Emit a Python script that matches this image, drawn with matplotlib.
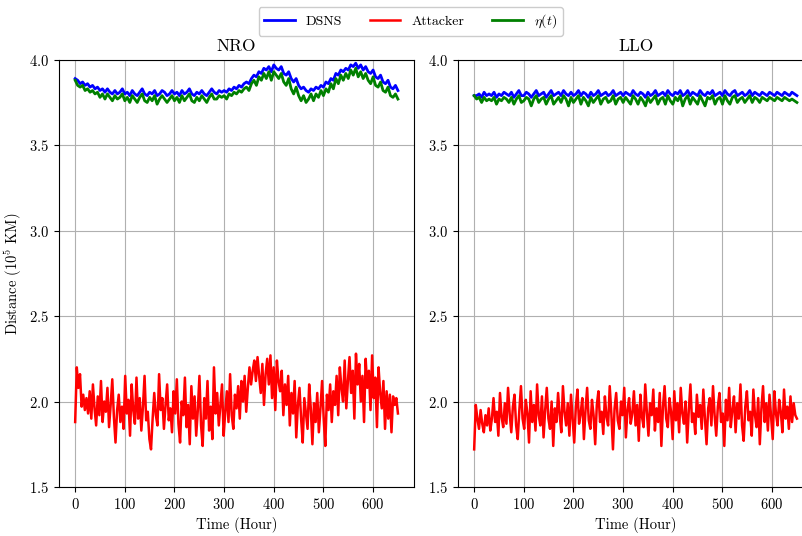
import numpy as np
import matplotlib
matplotlib.use("Agg")
import matplotlib.pyplot as plt

plt.rcParams["font.family"] = ["cmr10", "DejaVu Serif"]
plt.rcParams["mathtext.fontset"] = "cm"
plt.rcParams["axes.formatter.use_mathtext"] = True
plt.rcParams["axes.unicode_minus"] = False

# sample times (hours): estimator every 5 h, attacker every 3.25 h
hours = np.arange(0, 655, 5)
attacker_hours = np.linspace(0, 650, 201)

# NRO orbit, distances in 10^5 km
nro_dsns = [
    3.89, 3.88, 3.86, 3.87, 3.85, 3.86, 3.84, 3.85, 3.83, 3.84,
    3.82, 3.83, 3.81, 3.83, 3.81, 3.80, 3.82, 3.80, 3.81, 3.83,
    3.80, 3.81, 3.79, 3.82, 3.80, 3.79, 3.81, 3.83, 3.80, 3.79,
    3.81, 3.80, 3.82, 3.79, 3.80, 3.82, 3.81, 3.79, 3.80, 3.82,
    3.80, 3.81, 3.79, 3.82, 3.80, 3.81, 3.83, 3.80, 3.79, 3.81,
    3.80, 3.82, 3.80, 3.79, 3.81, 3.83, 3.81, 3.80, 3.82, 3.81,
    3.82, 3.81, 3.83, 3.82, 3.84, 3.83, 3.85, 3.84, 3.86, 3.87,
    3.86, 3.89, 3.91, 3.90, 3.93, 3.92, 3.95, 3.94, 3.96, 3.93,
    3.97, 3.95, 3.94, 3.96, 3.92, 3.91, 3.93, 3.89, 3.87, 3.89,
    3.85, 3.83, 3.84, 3.82, 3.81, 3.83, 3.82, 3.84, 3.83, 3.85,
    3.84, 3.87, 3.86, 3.89, 3.88, 3.92, 3.91, 3.94, 3.93, 3.95,
    3.94, 3.97, 3.96, 3.98, 3.95, 3.97, 3.94, 3.96, 3.93, 3.92,
    3.94, 3.90, 3.89, 3.91, 3.87, 3.86, 3.88, 3.84, 3.83, 3.85, 3.82,
]
nro_attacker = [
    1.88, 2.20, 2.08, 2.16, 1.97, 2.04, 1.95, 2.02, 1.93, 2.06,
    1.90, 2.10, 1.96, 1.86, 2.03, 1.92, 2.12, 1.88, 2.00, 1.94,
    2.08, 1.85, 1.98, 2.13, 1.91, 1.76, 1.95, 2.04, 1.88, 1.97,
    1.84, 2.15, 1.93, 2.01, 1.80, 2.10, 1.95, 1.87, 2.14, 1.90,
    2.02, 1.83, 1.97, 2.15, 1.89, 1.94, 1.78, 1.72, 1.90, 2.05,
    1.92, 1.86, 2.16, 1.95, 2.02, 1.84, 1.98, 2.10, 1.89, 1.96,
    1.82, 2.06, 1.93, 2.13, 1.87, 1.76, 2.00, 1.92, 2.14, 1.85,
    1.98, 1.75, 2.09, 1.90, 2.03, 1.80, 1.95, 2.15, 1.86, 1.74,
    2.02, 1.90, 2.12, 1.83, 1.97, 1.78, 2.20, 1.93, 2.05, 1.86,
    1.98, 2.10, 1.80, 1.94, 2.06, 1.88, 2.16, 1.92, 1.84, 2.04,
    1.96, 2.09, 1.90, 2.12, 2.00, 2.15, 1.94, 2.08, 2.20, 2.10,
    2.18, 2.24, 2.12, 2.26, 2.15, 2.05, 2.22, 1.98, 2.16, 2.25,
    2.10, 2.27, 2.02, 2.20, 1.95, 2.24, 2.12, 2.06, 2.18, 1.92,
    2.10, 1.98, 2.15, 1.86, 2.05, 1.93, 2.12, 1.79, 1.98, 2.08,
    1.90, 1.76, 2.02, 1.93, 1.84, 2.10, 1.96, 1.75, 1.99, 1.88,
    2.05, 1.82, 1.96, 2.12, 1.90, 1.74, 2.04, 1.95, 2.10, 1.88,
    2.06, 1.98, 2.15, 1.92, 2.20, 2.08, 2.00, 2.24, 1.96, 2.12,
    2.26, 2.05, 2.18, 1.90, 2.28, 2.10, 2.22, 2.00, 2.15, 1.88,
    2.25, 2.08, 2.18, 1.95, 2.27, 2.02, 2.14, 1.85, 2.20, 2.05,
    1.96, 2.12, 1.84, 2.06, 1.90, 2.04, 1.82, 2.03, 1.98, 2.02,
    1.93,
]
nro_eta = [
    3.88, 3.85, 3.84, 3.85, 3.82, 3.83, 3.81, 3.82, 3.80, 3.81,
    3.78, 3.80, 3.77, 3.80, 3.78, 3.76, 3.79, 3.77, 3.78, 3.80,
    3.76, 3.78, 3.75, 3.79, 3.77, 3.75, 3.78, 3.80, 3.76, 3.75,
    3.78, 3.76, 3.79, 3.74, 3.77, 3.79, 3.77, 3.75, 3.77, 3.79,
    3.76, 3.78, 3.75, 3.79, 3.76, 3.78, 3.80, 3.76, 3.75, 3.78,
    3.76, 3.79, 3.77, 3.75, 3.78, 3.80, 3.77, 3.77, 3.79, 3.78,
    3.79, 3.77, 3.80, 3.79, 3.81, 3.80, 3.82, 3.81, 3.83, 3.84,
    3.82, 3.86, 3.88, 3.85, 3.90, 3.88, 3.92, 3.89, 3.93, 3.88,
    3.93, 3.91, 3.89, 3.92, 3.87, 3.85, 3.89, 3.83, 3.80, 3.84,
    3.79, 3.76, 3.79, 3.75, 3.77, 3.80, 3.76, 3.80, 3.78, 3.82,
    3.79, 3.83, 3.81, 3.86, 3.83, 3.89, 3.86, 3.91, 3.88, 3.92,
    3.89, 3.94, 3.91, 3.95, 3.90, 3.93, 3.89, 3.92, 3.88, 3.86,
    3.90, 3.85, 3.84, 3.87, 3.82, 3.81, 3.84, 3.79, 3.78, 3.80, 3.77,
]

# LLO orbit
llo_dsns = [
    3.79, 3.79, 3.80, 3.78, 3.81, 3.79, 3.80, 3.79, 3.81, 3.78,
    3.80, 3.79, 3.81, 3.80, 3.79, 3.81, 3.78, 3.80, 3.82, 3.79,
    3.79, 3.81, 3.80, 3.78, 3.80, 3.82, 3.79, 3.80, 3.81, 3.78,
    3.80, 3.82, 3.79, 3.80, 3.81, 3.79, 3.82, 3.80, 3.79, 3.81,
    3.79, 3.80, 3.82, 3.79, 3.81, 3.80, 3.78, 3.81, 3.79, 3.80,
    3.82, 3.79, 3.80, 3.81, 3.79, 3.80, 3.82, 3.79, 3.80, 3.81,
    3.79, 3.81, 3.80, 3.79, 3.82, 3.80, 3.79, 3.81, 3.80, 3.78,
    3.81, 3.79, 3.80, 3.82, 3.79, 3.80, 3.81, 3.79, 3.82, 3.80,
    3.79, 3.81, 3.80, 3.82, 3.79, 3.80, 3.82, 3.79, 3.81, 3.80,
    3.79, 3.82, 3.80, 3.79, 3.81, 3.80, 3.82, 3.79, 3.80, 3.81,
    3.79, 3.82, 3.80, 3.79, 3.81, 3.82, 3.79, 3.80, 3.81, 3.79,
    3.80, 3.82, 3.79, 3.81, 3.80, 3.79, 3.81, 3.80, 3.79, 3.81,
    3.80, 3.79, 3.81, 3.80, 3.79, 3.81, 3.80, 3.79, 3.81, 3.80, 3.79,
]
llo_attacker = [
    1.72, 1.98, 1.90, 1.84, 1.95, 1.87, 1.82, 1.92, 1.86, 1.96,
    1.83, 1.90, 2.02, 1.88, 1.94, 1.80, 2.05, 1.91, 1.85, 1.99,
    1.87, 2.08, 1.93, 1.82, 1.97, 2.04, 1.86, 1.78, 1.95, 2.09,
    1.90, 1.84, 2.01, 1.93, 1.76, 2.06, 1.88, 1.98, 1.83, 2.10,
    1.92, 1.86, 2.03, 1.79, 1.95, 2.08, 1.90, 1.84, 2.00, 1.74,
    1.96, 1.88, 2.05, 1.92, 1.82, 2.09, 1.94, 1.86, 1.99, 1.80,
    2.04, 1.90, 1.76, 1.97, 2.07, 1.87, 1.93, 2.02, 1.78, 1.95,
    2.08, 1.89, 1.84, 2.01, 1.92, 1.75, 1.98, 2.06, 1.88, 1.94,
    1.81, 2.03, 1.91, 1.86, 2.09, 1.93, 1.72, 1.96, 2.05, 1.89,
    1.84, 2.00, 1.92, 2.08, 1.79, 1.95, 2.02, 1.87, 1.93, 2.06,
    1.86, 1.98, 1.77, 2.04, 1.91, 1.85, 2.10, 1.94, 1.80, 1.99,
    1.92, 2.07, 1.83, 1.96, 1.88, 2.05, 1.74, 1.97, 2.09, 1.90,
    1.85, 2.02, 1.94, 1.78, 2.06, 1.89, 1.99, 1.82, 2.08, 1.93,
    1.87, 2.00, 1.76, 1.95, 2.10, 1.88, 1.93, 1.81, 2.04, 1.91,
    1.98, 1.84, 2.07, 1.90, 1.75, 1.96, 2.02, 1.86, 2.09, 1.92,
    1.80, 1.97, 2.05, 1.88, 1.93, 1.74, 2.01, 1.89, 2.08, 1.85,
    1.95, 2.03, 1.82, 1.99, 1.90, 2.10, 1.86, 1.77, 1.97, 2.06,
    1.89, 1.94, 1.80, 2.07, 1.92, 1.85, 2.02, 1.75, 1.96, 2.09,
    1.88, 1.99, 1.83, 2.04, 1.91, 1.78, 2.06, 1.93, 1.86, 2.01,
    1.94, 1.82, 2.07, 1.90, 1.97, 1.84, 2.03, 1.88, 1.99, 1.92,
    1.90,
]
llo_eta = [
    3.79, 3.77, 3.78, 3.75, 3.78, 3.76, 3.77, 3.76, 3.78, 3.74,
    3.77, 3.76, 3.78, 3.77, 3.75, 3.78, 3.74, 3.77, 3.79, 3.75,
    3.76, 3.78, 3.77, 3.73, 3.77, 3.79, 3.75, 3.77, 3.78, 3.74,
    3.77, 3.79, 3.74, 3.76, 3.78, 3.75, 3.79, 3.77, 3.73, 3.78,
    3.75, 3.77, 3.79, 3.74, 3.78, 3.76, 3.73, 3.78, 3.75, 3.77,
    3.79, 3.74, 3.77, 3.78, 3.75, 3.76, 3.79, 3.74, 3.77, 3.78,
    3.75, 3.78, 3.76, 3.74, 3.79, 3.77, 3.74, 3.78, 3.76, 3.73,
    3.78, 3.75, 3.77, 3.79, 3.74, 3.77, 3.78, 3.74, 3.79, 3.76,
    3.74, 3.78, 3.76, 3.79, 3.73, 3.77, 3.79, 3.74, 3.78, 3.76,
    3.74, 3.79, 3.76, 3.73, 3.78, 3.77, 3.79, 3.74, 3.77, 3.78,
    3.74, 3.79, 3.76, 3.74, 3.78, 3.79, 3.75, 3.77, 3.78, 3.75,
    3.77, 3.79, 3.75, 3.78, 3.77, 3.75, 3.78, 3.77, 3.76, 3.78,
    3.77, 3.76, 3.78, 3.77, 3.76, 3.78, 3.77, 3.76, 3.77, 3.76, 3.75,
]

panels = [
    ("NRO", nro_dsns, nro_attacker, nro_eta),
    ("LLO", llo_dsns, llo_attacker, llo_eta),
]

fig = plt.figure(figsize=(8.02, 5.36), dpi=100)
ax_left = fig.add_axes([0.0736, 0.0915, 0.4427, 0.797])
ax_right = fig.add_axes([0.5711, 0.0915, 0.4427, 0.797])

for ax, (name, dsns, attacker, eta) in zip([ax_left, ax_right], panels):
    ax.plot(hours, dsns, color="blue", lw=2.0, label="DSNS")
    ax.plot(attacker_hours, attacker, color="red", lw=1.8, label="Attacker")
    ax.plot(hours, eta, color="green", lw=2.0, label=r"$\eta(t)$")
    ax.set_xlim(-32.5, 682.5)
    ax.set_ylim(1.5, 4.0)
    ax.set_yticks([1.5, 2.0, 2.5, 3.0, 3.5, 4.0])
    ax.set_xticks([0, 100, 200, 300, 400, 500, 600])
    ax.grid(True, color="#b0b0b0", lw=0.8)
    ax.set_title(name, fontsize=12.5)
    ax.set_xlabel("Time (Hour)", fontsize=10.5)
    ax.tick_params(labelsize=10.5)

ax_left.set_ylabel(r"Distance ($10^5$ KM)", fontsize=10.5)

handles, labels = ax_left.get_legend_handles_labels()
fig.legend(handles, labels, loc="upper center", ncol=3, bbox_to_anchor=(0.512, 1.0),
           fontsize=10, handlelength=2.2, columnspacing=2.0, framealpha=1)

fig.savefig("out.png", dpi=100)
